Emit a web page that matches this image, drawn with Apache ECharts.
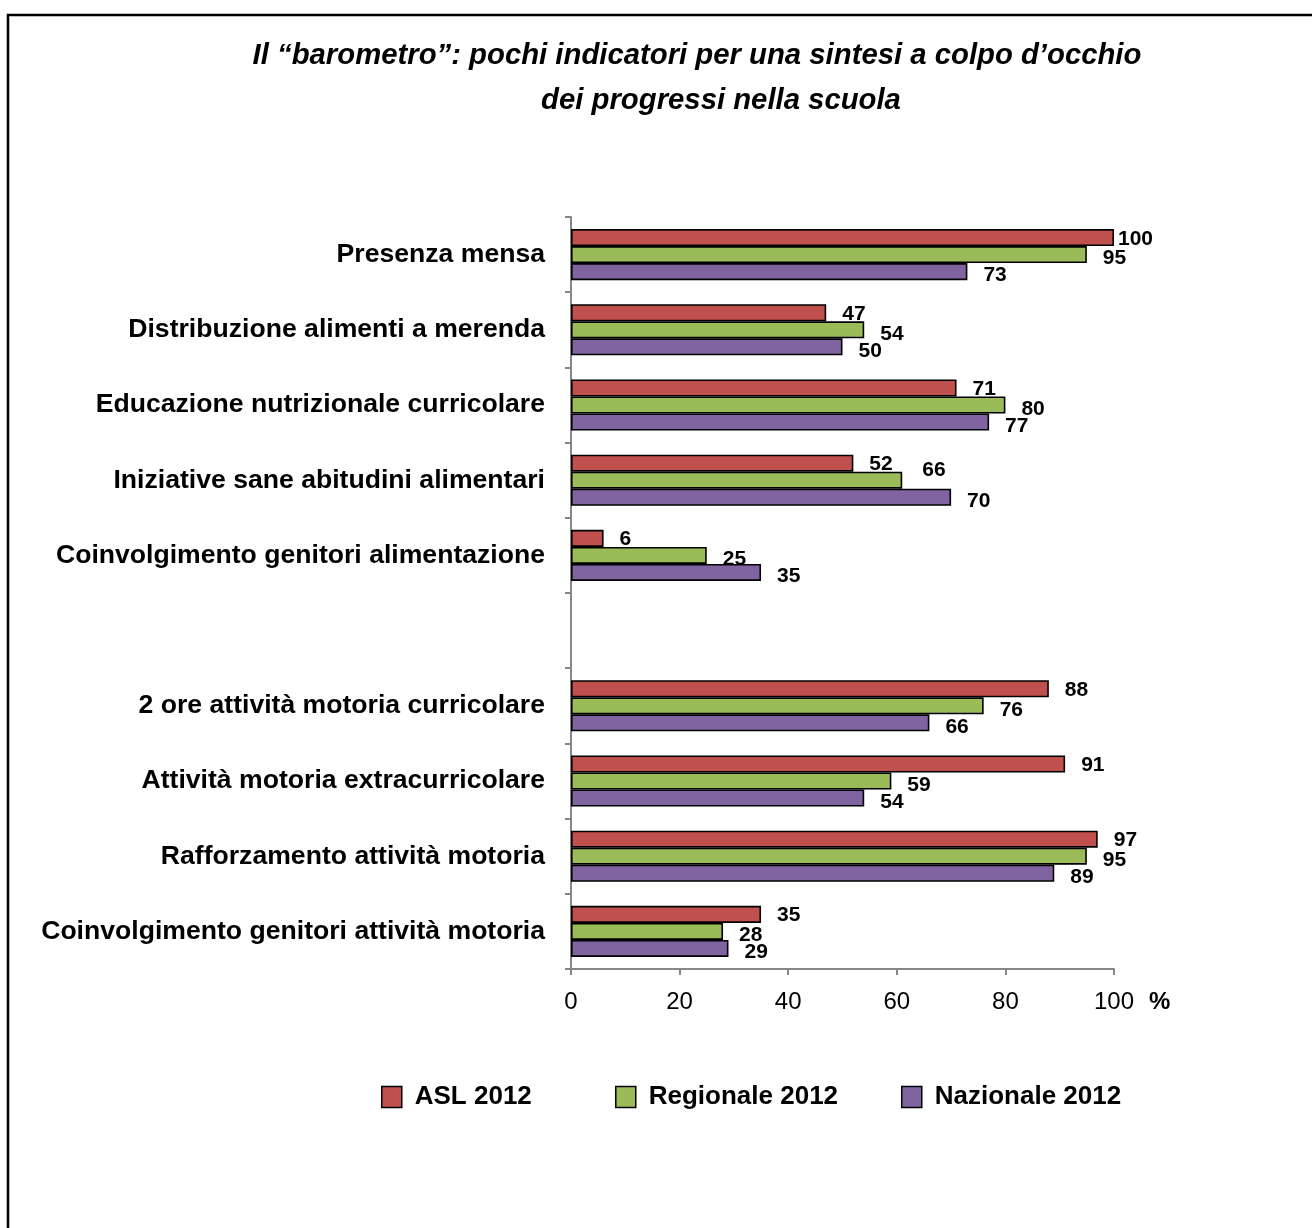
<!DOCTYPE html>
<html>
<head>
<meta charset="utf-8">
<script src="https://cdn.jsdelivr.net/npm/echarts@6/dist/echarts.min.js"></script>
<style>
html,body{margin:0;padding:0;background:#fff;}
#chart{width:1312px;height:1228px;}
</style>
</head>
<body>
<div id="chart"></div>
<script>
const titleLine1 = "Il \u201cbarometro\u201d: pochi indicatori per una sintesi a colpo d\u2019occhio";
const titleLine2 = "dei progressi nella scuola";
const categories = [
  "Presenza mensa",
  "Distribuzione alimenti a merenda",
  "Educazione nutrizionale curricolare",
  "Iniziative sane abitudini alimentari",
  "Coinvolgimento genitori alimentazione",
  "",
  "2 ore attività motoria curricolare",
  "Attività motoria extracurricolare",
  "Rafforzamento attività motoria",
  "Coinvolgimento genitori attività motoria"
];
const seriesNames = ["ASL 2012", "Regionale 2012", "Nazionale 2012"];
const asl2012 = [100, 47, 71, 52, 6, null, 88, 91, 97, 35];
const regionale2012 = [95, 54, 80, 61, 25, null, 76, 59, 95, 28];
const nazionale2012 = [73, 50, 77, 70, 35, null, 66, 54, 89, 29];
// printed data labels (the original chart labels one bar "66" while its bar reaches 61)
const aslLabels = [100, 47, 71, 52, 6, null, 88, 91, 97, 35];
const regionaleLabels = [95, 54, 80, 66, 25, null, 76, 59, 95, 28];
const nazionaleLabels = [73, 50, 77, 70, 35, null, 66, 54, 89, 29];
const xTicks = [0, 20, 40, 60, 80, 100];
const axisUnit = "%";

// styling
const colors = ["#C0504D", "#9BBB59", "#8064A2"];
const FONT = "Liberation Sans, Arial, sans-serif";
const labelYOffset = [1, 4, 4];
// individual label placement tweaks: [seriesIndex, dataIndex] -> {distance, dy}
const labelTweaks = {"0-0": {distance: 4, dy: 2}, "1-3": {distance: 20, dy: -10}};

const chart = echarts.init(document.getElementById('chart'), null, {renderer: 'canvas'});

function makeSeries(si, name, data, labels, color) {
  const items = data.map((v, i) => {
    const t = labelTweaks[si + '-' + i];
    const item = {value: v == null ? '-' : v};
    if (t) item.label = {distance: t.distance, offset: [0, t.dy]};
    return item;
  });
  return {
    name: name,
    type: 'bar',
    data: items,
    barGap: '0%',
    barCategoryGap: '32%',
    itemStyle: {color: color, borderColor: '#000', borderWidth: 1.6},
    label: {
      show: true,
      position: 'right',
      distance: 16,
      offset: [0, labelYOffset[si]],
      fontFamily: FONT,
      fontWeight: 'bold',
      fontSize: 21,
      color: '#000',
      formatter: p => (labels[p.dataIndex] == null ? '' : String(labels[p.dataIndex]))
    },
    emphasis: {disabled: true},
    animation: false
  };
}

const titleStyle = {
  fontFamily: FONT, fontStyle: 'italic', fontWeight: 'bold', fontSize: 29.3, color: '#000'
};
const legendCommon = {
  itemWidth: 20,
  itemHeight: 21,
  icon: 'rect',
  top: 1084,
  padding: 0,
  itemStyle: {borderColor: '#000', borderWidth: 1.5},
  textStyle: {fontFamily: FONT, fontWeight: 'bold', fontSize: 26, color: '#000', padding: [0, 0, 0, 8]},
  selectedMode: false
};
const legendLefts = [381, 615, 901];

chart.setOption({
  backgroundColor: '#fff',
  animation: false,
  title: [
    {text: titleLine1, left: 692, textAlign: 'center', top: 36, textStyle: titleStyle},
    {text: titleLine2, left: 716, textAlign: 'center', top: 81, textStyle: titleStyle}
  ],
  legend: seriesNames.map((n, i) => Object.assign({}, legendCommon, {data: [n], left: legendLefts[i]})),
  grid: {left: 571, right: 198, top: 217, bottom: 259, containLabel: false},
  xAxis: {
    type: 'value',
    min: 0,
    max: 100,
    interval: 20,
    name: axisUnit,
    nameLocation: 'end',
    nameGap: 35,
    nameTextStyle: {
      fontFamily: FONT, fontWeight: 'bold', fontSize: 24, color: '#000',
      verticalAlign: 'top', padding: [21, 0, 0, 0]
    },
    axisLine: {show: true, lineStyle: {color: '#868686', width: 2}},
    axisTick: {show: true, length: 6, lineStyle: {color: '#868686', width: 2}},
    splitLine: {show: false},
    axisLabel: {
      fontFamily: FONT, fontSize: 24, color: '#000', margin: 21,
      formatter: v => (xTicks.indexOf(v) >= 0 ? String(v) : '')
    }
  },
  yAxis: {
    type: 'category',
    data: categories,
    inverse: true,
    axisLine: {show: true, lineStyle: {color: '#868686', width: 2}},
    axisTick: {show: true, length: 6, alignWithLabel: false, lineStyle: {color: '#868686', width: 2}},
    axisLabel: {fontFamily: FONT, fontWeight: 'bold', fontSize: 26.6, color: '#000', margin: 26},
    splitLine: {show: false}
  },
  series: [
    makeSeries(0, seriesNames[0], asl2012, aslLabels, colors[0]),
    makeSeries(1, seriesNames[1], regionale2012, regionaleLabels, colors[1]),
    makeSeries(2, seriesNames[2], nazionale2012, nazionaleLabels, colors[2])
  ],
  graphic: [{
    type: 'rect',
    shape: {x: 8, y: 15, width: 1330, height: 1240},
    style: {fill: 'none', stroke: '#000', lineWidth: 2.5},
    silent: true
  }]
});
</script>
</body>
</html>
